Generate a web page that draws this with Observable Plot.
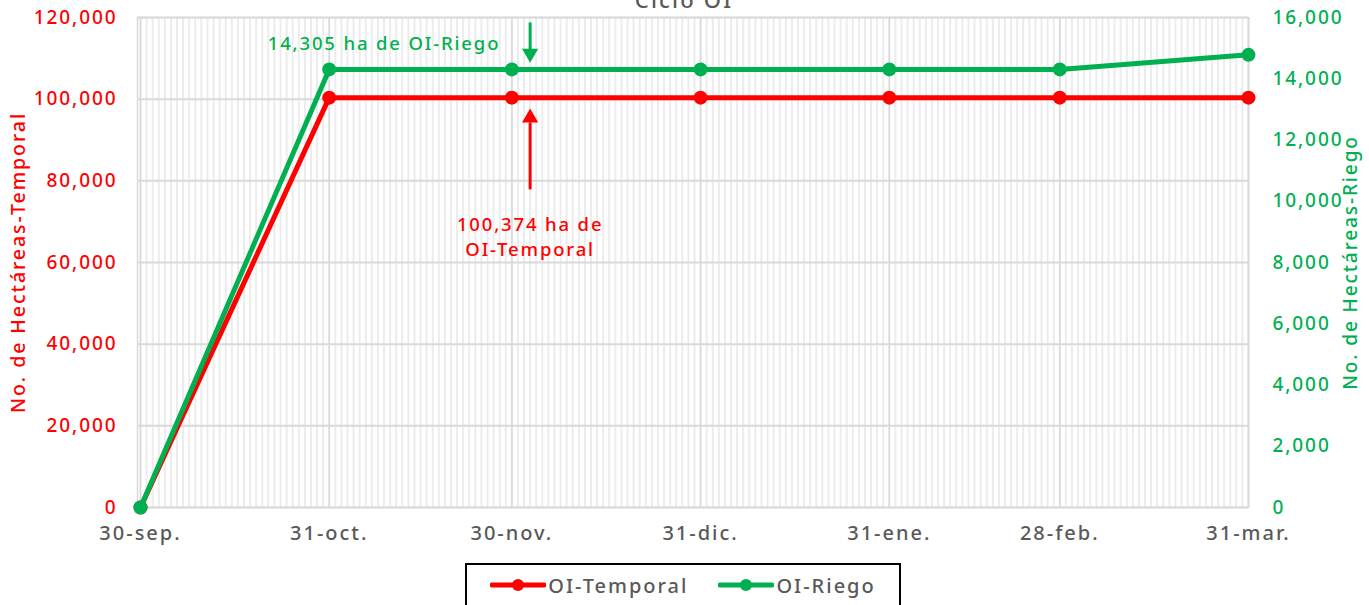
<!DOCTYPE html>
<html>
<head>
<meta charset="utf-8">
<script src="https://cdn.jsdelivr.net/npm/d3@7"></script>
<script src="https://cdn.jsdelivr.net/npm/@observablehq/plot@0.6"></script>
<style>
  body { margin: 0; background: #fff; font-family: "Noto Sans", sans-serif; }
  #wrap { width: 1369px; height: 605px; overflow: hidden; position: relative; }
  #wrap svg text { letter-spacing: 0.1em; }
  .legend { position: absolute; left: 465px; top: 563px; width: 436px; height: 44px; border: 2px solid #000;
    display: flex; align-items: center; justify-content: center; gap: 30px; font-size: 20px; font-weight: 500;
    letter-spacing: 0.1em; color: #595959; box-sizing: border-box; }
  .item { display: flex; align-items: center; }
</style>
</head>
<body>
<div id="wrap"></div>
<script>
// ---- data ----
const dates = ["2024-09-30","2024-10-31","2024-11-30","2024-12-31","2025-01-31","2025-02-28","2025-03-31"];
const xLabels = ["30-sep.","31-oct.","30-nov.","31-dic.","31-ene.","28-feb.","31-mar."];
const temporal = [0, 100374, 100374, 100374, 100374, 100374, 100374];
const riego = [0, 14305, 14305, 14305, 14305, 14305, 14780];
const leftTicks = [0, 20000, 40000, 60000, 80000, 100000, 120000];
const rightTicks = [0, 2000, 4000, 6000, 8000, 10000, 12000, 14000, 16000];
const seriesNames = ["OI-Temporal", "OI-Riego"];
const colors = ["#FF0000", "#00B050"];
const title = "Ciclo OI";
const leftTitle = "No. de Hectáreas-Temporal";
const rightTitle = "No. de Hectáreas-Riego";
// annotations (x date, y in left-axis units)
const annoRiegoText = "14,305 ha de OI-Riego";
const annoTemporalText = "100,374 ha de\nOI-Temporal";
const arrowDate = "2024-12-03";
const riegoArrow = {y1: 118800, y2: 112100, head: 111200, rotate: 180};
const temporalArrow = {y1: 77900, y2: 94300, head: 95450, rotate: 0};
const riegoTextPos = {x: "2024-11-09", y: 113600};
const temporalTextPos = {x: "2024-12-03", y: 66700};

const leftMax = 120000, rightMax = 16000;
const k = leftMax / rightMax;
const parse = d3.utcParse("%Y-%m-%d");
const fmt = d3.format(",");

const rows = dates.map((d, i) => ({date: parse(d), temporal: temporal[i], riego: riego[i] * k}));
const labelByTime = new Map(dates.map((d, i) => [+parse(d), xLabels[i]]));
const arrows = [
  {...riegoArrow, color: colors[1]},
  {...temporalArrow, color: colors[0]}
].map(a => ({...a, x: parse(arrowDate)}));

const plot = Plot.plot({
  width: 1369,
  height: 555,
  marginTop: 17,
  marginBottom: 48,
  marginLeft: 137,
  marginRight: 121,
  insetLeft: 3,
  style: {fontFamily: "Noto Sans, sans-serif", fontSize: "19px", fontWeight: 500},
  x: {type: "utc", domain: [parse(dates[0]), parse(dates[dates.length - 1])]},
  y: {domain: [0, leftMax]},
  marks: [
    Plot.gridX({ticks: d3.utcDay, stroke: "#ececec", strokeOpacity: 1, strokeWidth: 2}),
    Plot.gridX(rows.map(r => r.date), {stroke: "#d9d9d9", strokeOpacity: 1, strokeWidth: 1.5}),
    Plot.gridY(leftTicks, {stroke: "#d9d9d9", strokeOpacity: 1, strokeWidth: 2}),
    Plot.frame({stroke: "#d9d9d9", strokeWidth: 1.5}),
    Plot.axisX(rows.map(r => r.date), {tickSize: 0, tickPadding: 18, tickFormat: d => labelByTime.get(+d), fill: "#595959", fontSize: 20, label: null}),
    Plot.axisY(leftTicks, {anchor: "left", tickSize: 0, tickPadding: 20, tickFormat: fmt, fill: "#FF0000", fontSize: 19, label: null}),
    Plot.axisY(rightTicks.map(t => t * k), {anchor: "right", tickSize: 0, tickPadding: 24, tickFormat: d => fmt(Math.round(d / k)), fill: "#00B050", fontSize: 19, label: null}),
    Plot.text([leftTitle], {frameAnchor: "left", textAnchor: "middle", dx: -119, rotate: -90, fill: "#FF0000", fontSize: 19.5}),
    Plot.text([rightTitle], {frameAnchor: "right", textAnchor: "middle", dx: 102, rotate: -90, fill: "#00B050", fontSize: 19}),
    Plot.text([title], {frameAnchor: "top", dy: -10, dx: -9, lineAnchor: "bottom", fill: "#595959", fontSize: 22}),
    Plot.line(rows, {x: "date", y: "temporal", stroke: colors[0], strokeWidth: 5}),
    Plot.dot(rows, {x: "date", y: "temporal", fill: colors[0], r: 7}),
    Plot.line(rows, {x: "date", y: "riego", stroke: colors[1], strokeWidth: 5}),
    Plot.dot(rows, {x: "date", y: "riego", fill: colors[1], r: 7}),
    Plot.link(arrows, {x1: "x", x2: "x", y1: "y1", y2: "y2", stroke: "color", strokeWidth: 3}),
    Plot.dot(arrows, {x: "x", y: "head", symbol: "triangle", rotate: "rotate", fill: "color", r: 6}),
    Plot.text([riegoTextPos], {x: d => parse(d.x), y: "y", text: () => annoRiegoText, fill: colors[1], fontSize: 18.5}),
    Plot.text([temporalTextPos], {x: d => parse(d.x), y: "y", text: () => annoTemporalText, fill: colors[0], fontSize: 18.5, lineHeight: 1.35})
  ]
});

const wrap = document.getElementById("wrap");
wrap.appendChild(plot);

const legend = document.createElement("div");
legend.className = "legend";
seriesNames.forEach((name, i) => {
  const item = document.createElement("div");
  item.className = "item";
  item.innerHTML = `<svg width="56" height="14"><line x1="2" y1="7" x2="54" y2="7" stroke="${colors[i]}" stroke-width="5" stroke-linecap="round"/><circle cx="28" cy="7" r="6" fill="${colors[i]}"/></svg><span style="margin-left:2px">${name}</span>`;
  legend.appendChild(item);
});
wrap.appendChild(legend);
</script>
</body>
</html>
